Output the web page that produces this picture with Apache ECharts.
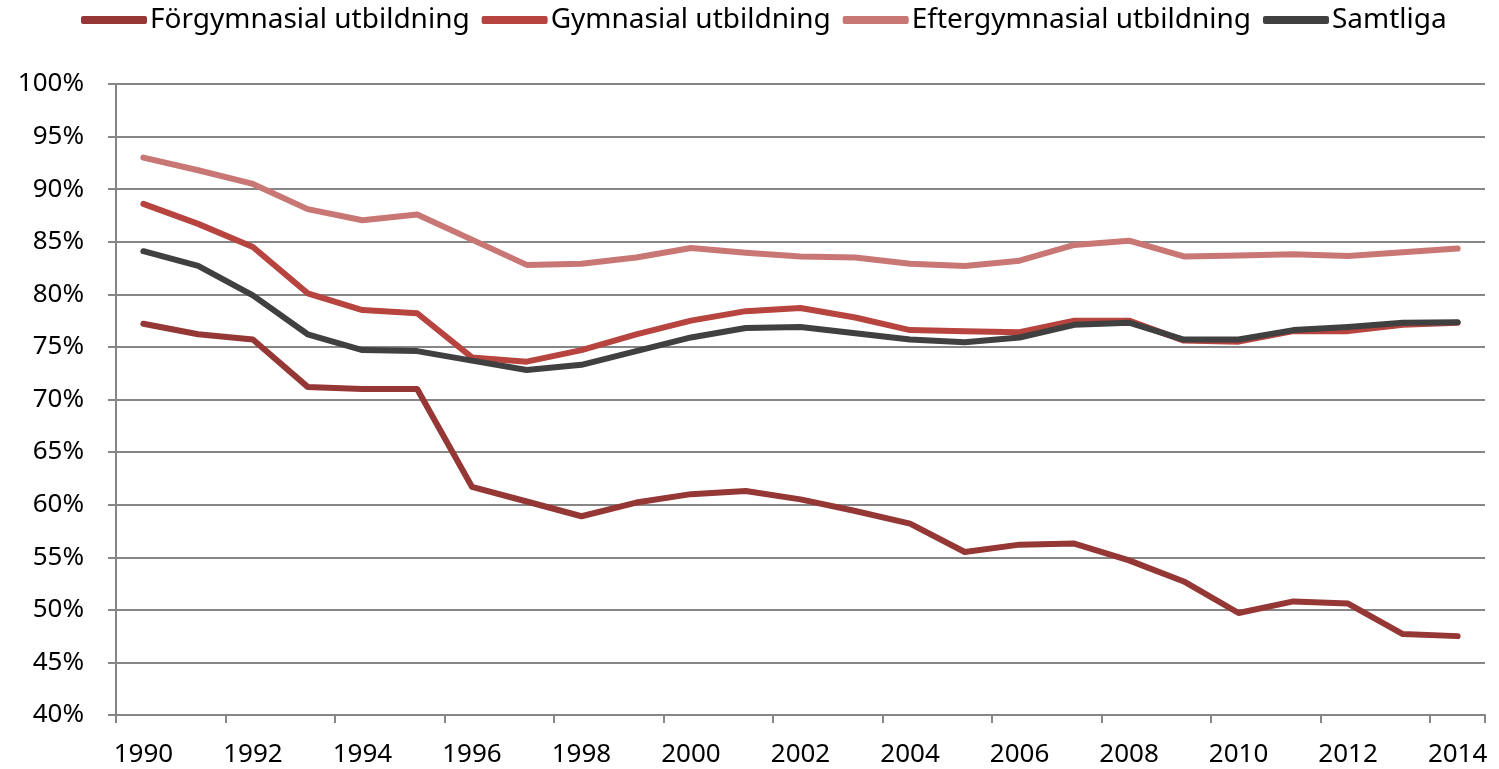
<!DOCTYPE html>
<html>
<head>
<meta charset="utf-8">
<script src="https://cdn.jsdelivr.net/npm/echarts@6/dist/echarts.min.js"></script>
<style>
html,body{margin:0;padding:0;background:#fff;}
#chart{width:1499px;height:769px;}
</style>
</head>
<body>
<div id="chart"></div>
<script>
const years = ['1990','1991','1992','1993','1994','1995','1996','1997','1998','1999','2000','2001','2002','2003','2004','2005','2006','2007','2008','2009','2010','2011','2012','2013','2014'];
const forgymnasial = [77.2,76.2,75.7,71.2,71.0,71.0,61.7,60.3,58.9,60.2,61.0,61.3,60.5,59.4,58.2,55.5,56.2,56.3,54.7,52.7,49.7,50.8,50.6,47.7,47.5];
const gymnasial = [88.6,86.7,84.5,80.1,78.5,78.2,74.0,73.6,74.7,76.2,77.5,78.4,78.7,77.8,76.6,76.5,76.4,77.5,77.5,75.6,75.5,76.5,76.5,77.1,77.3];
const eftergymnasial = [93.0,91.8,90.5,88.1,87.05,87.6,85.2,82.8,82.9,83.5,84.4,83.95,83.6,83.5,82.9,82.7,83.2,84.7,85.1,83.6,83.7,83.8,83.65,84.0,84.35];
const samtliga = [84.1,82.7,79.9,76.2,74.7,74.6,73.7,72.8,73.3,74.6,75.9,76.8,76.9,76.3,75.7,75.45,75.9,77.1,77.3,75.7,75.7,76.6,76.9,77.3,77.35];
const yTicks = {min:40, max:100, interval:5};

const names = ['Förgymnasial utbildning','Gymnasial utbildning','Eftergymnasial utbildning','Samtliga'];
const colors = ['#953735','#B7443F','#C97775','#404040'];
const dataSets = [forgymnasial, gymnasial, eftergymnasial, samtliga];
const font = "'Noto Sans', sans-serif";

const chart = echarts.init(document.getElementById('chart'));
chart.setOption({
  animation:false,
  backgroundColor:'#fff',
  color: colors,
  legend:{
    top:1, left:76,
    icon:'roundRect', itemWidth:66, itemHeight:8, itemGap:12,
    textStyle:{fontFamily:font, fontSize:28, color:'#000', padding:[0,0,0,-2]},
    data:names
  },
  grid:{left:116, right:14, top:84, bottom:54, containLabel:false},
  xAxis:{
    type:'category', data:years, boundaryGap:true,
    axisLine:{lineStyle:{color:'#868686', width:2}},
    axisTick:{show:true, interval:1, length:8, lineStyle:{color:'#868686', width:2}},
    axisLabel:{interval:1, margin:27, fontFamily:font, fontSize:26, color:'#000'},
    splitLine:{show:false}
  },
  yAxis:{
    type:'value', min:yTicks.min, max:yTicks.max, interval:yTicks.interval,
    axisLine:{show:true, lineStyle:{color:'#868686', width:2}},
    axisTick:{show:true, length:8, lineStyle:{color:'#868686', width:2}},
    axisLabel:{margin:32, fontFamily:font, fontSize:26, color:'#000', formatter:'{value}%'},
    splitLine:{show:true, lineStyle:{color:'#868686', width:2}}
  },
  series: names.map((n,i)=>({
    name:n, type:'line', data:dataSets[i], symbol:'none',
    lineStyle:{width:6, color:colors[i], cap:'round', join:'round'},
    itemStyle:{color:colors[i]}
  }))
});
</script>
</body>
</html>
